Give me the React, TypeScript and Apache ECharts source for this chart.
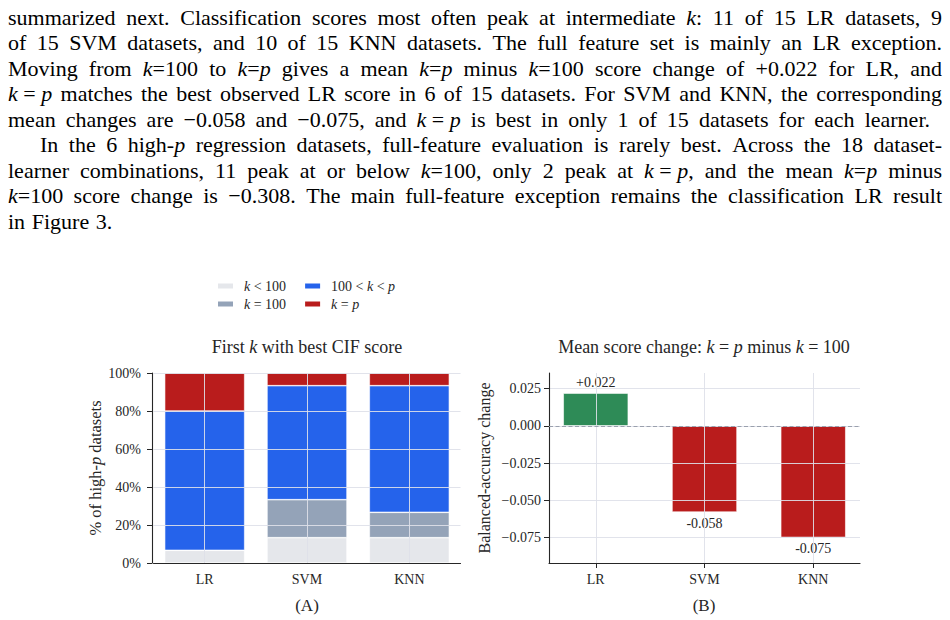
import React, { useEffect, useRef } from "react";
import * as echarts from "echarts";

const SERIF = '"Liberation Serif", "Times New Roman", serif';
const INK = "#262626";
const GRID_LINE = "rgba(222,224,233,0.9)";

// Panel A: datasets (out of 15 per learner) whose first best CIF score falls in each k band
const learners = ["LR", "SVM", "KNN"];
const datasetsPerLearner = 15;
const bandNames = ["k < 100", "k = 100", "100 < k < p", "k = p"];
const bandRichLabels = ["{i|k} < 100", "{i|k} = 100", "100 < {i|k} < {i|p}", "{i|k} = {i|p}"];
const bandColors = ["#e5e7eb", "#94a3b8", "#2563eb", "#b91c1c"];
const firstBestBelow100 = [1, 2, 2];
const firstBestAt100 = [0, 3, 2];
const firstBestBetween = [11, 9, 10];
const firstBestAtP = [3, 1, 1];
const bandCounts = [firstBestBelow100, firstBestAt100, firstBestBetween, firstBestAtP];

// Panel B: mean balanced-accuracy change, k = p minus k = 100
const meanChange = [0.022, -0.058, -0.075];
const changeTicks = [-0.075, -0.05, -0.025, 0, 0.025];
const gainColor = "#2e8b57";
const lossColor = "#b91c1c";

// Running text above the figure; *x* marks italic math, ~ a space inside a formula
const paragraphLines = [
  { text: "summarized next. Classification scores most often peak at intermediate *k*: 11 of 15 LR datasets, 9", indent: false, end: 942 },
  { text: "of 15 SVM datasets, and 10 of 15 KNN datasets. The full feature set is mainly an LR exception.", indent: false, end: 942 },
  { text: "Moving from *k*=100 to *k*=*p* gives a mean *k*=*p* minus *k*=100 score change of +0.022 for LR, and", indent: false, end: 942 },
  { text: "*k*~=~*p* matches the best observed LR score in 6 of 15 datasets. For SVM and KNN, the corresponding", indent: false, end: 942 },
  { text: "mean changes are \u22120.058 and \u22120.075, and *k*~=~*p* is best in only 1 of 15 datasets for each learner.", indent: false, end: 930 },
  { text: "In the 6 high-*p* regression datasets, full-feature evaluation is rarely best. Across the 18 dataset-", indent: true, end: 942 },
  { text: "learner combinations, 11 peak at or below *k*=100, only 2 peak at *k*~=~*p*, and the mean *k*=*p* minus", indent: false, end: 942 },
  { text: "*k*=100 score change is \u22120.308. The main full-feature exception remains the classification LR result", indent: false, end: 942 },
  { text: "in Figure 3.", indent: false, end: 0 },
];

const BODY_SIZE = 22;

function buildParagraph(): any[] {
  const ctx = document.createElement("canvas").getContext("2d") as CanvasRenderingContext2D;
  const measure = (s: string, italic: boolean) => {
    ctx.font = `${italic ? "italic " : ""}${BODY_SIZE}px ${SERIF}`;
    return ctx.measureText(s).width;
  };
  const left = 8;
  const firstBaseline = 24.5;
  const leading = 25.5;
  const indentWidth = 32;
  const naturalSpace = BODY_SIZE * 0.3;
  const out: any[] = [];
  paragraphLines.forEach((line, li) => {
    const words = line.text.split(" ").map((w) => {
      const parts = w.replace(/~/g, " ").split("*");
      let width = 0;
      let rich = "";
      parts.forEach((p, pi) => {
        if (!p) return;
        const italic = pi % 2 === 1;
        width += measure(p, italic);
        rich += italic ? `{i|${p}}` : p;
      });
      return { rich, width };
    });
    const x0 = left + (line.indent ? indentWidth : 0);
    const total = words.reduce((a, w) => a + w.width, 0);
    const gap =
      line.end > 0 && words.length > 1
        ? Math.max(3, (line.end - x0 - total) / (words.length - 1))
        : naturalSpace;
    const y = firstBaseline + li * leading - 7.3;
    let x = x0;
    words.forEach((w) => {
      out.push({
        type: "text",
        x,
        y,
        silent: true,
        style: {
          text: w.rich,
          font: `${BODY_SIZE}px ${SERIF}`,
          fill: "#000",
          textAlign: "left",
          textVerticalAlign: "middle",
          rich: { i: { font: `italic ${BODY_SIZE}px ${SERIF}`, fill: "#000" } },
        },
      });
      x += w.width + gap;
    });
  });
  return out;
}

function label(text: string, x: number, y: number, size: number): any {
  return {
    type: "text",
    x,
    y,
    silent: true,
    style: {
      text,
      font: `${size}px ${SERIF}`,
      fill: INK,
      textAlign: "center",
      textVerticalAlign: "middle",
      rich: { i: { font: `italic ${size}px ${SERIF}`, fill: INK } },
    },
  };
}

const tickText = (size: number) => ({ fontFamily: SERIF, fontSize: size, color: INK });
const richName = (size: number) => ({
  fontFamily: SERIF,
  fontSize: size,
  color: INK,
  rich: { i: { fontFamily: SERIF, fontSize: size, fontStyle: "italic", color: INK } },
});

function buildOption(): any {
  const legendBase = {
    icon: "rect",
    itemWidth: 17,
    itemHeight: 7,
    itemGap: 17,
    left: 211,
    orient: "horizontal",
    selectedMode: false,
    formatter: (name: string) => bandRichLabels[bandNames.indexOf(name)],
    textStyle: {
      fontFamily: SERIF,
      fontSize: 14,
      color: INK,
      padding: [0, 0, 0, 5],
      rich: { i: { fontFamily: SERIF, fontSize: 14, fontStyle: "italic", color: INK } },
    },
  };
  const learnerIndex = learners.map((_, i) => i);

  return {
    animation: false,
    backgroundColor: "#fff",
    textStyle: { fontFamily: SERIF },
    legend: [
      { ...legendBase, top: 274, data: [bandNames[0], bandNames[2]] },
      { ...legendBase, top: 292, data: [bandNames[1], bandNames[3]] },
    ],
    grid: [
      { left: 153.5, top: 373, width: 307, height: 190 },
      { left: 549, top: 373, width: 311, height: 190 },
    ],
    xAxis: [
      {
        type: "category",
        gridIndex: 0,
        data: learners,
        z: 3,
        axisLine: { onZero: false, lineStyle: { color: INK, width: 1.1 } },
        axisTick: { alignWithLabel: true, length: 5, lineStyle: { color: INK } },
        axisLabel: { margin: 9, ...tickText(14) },
        splitLine: { show: true, alignWithLabel: true, lineStyle: { color: GRID_LINE, width: 1 } },
      },
      {
        type: "value",
        gridIndex: 1,
        min: -0.43,
        max: 2.43,
        z: 3,
        axisLine: { onZero: false, lineStyle: { color: INK, width: 1.1 } },
        axisTick: { show: true, length: 5, customValues: learnerIndex, lineStyle: { color: INK } },
        axisLabel: {
          margin: 9,
          customValues: learnerIndex,
          formatter: (v: number) => learners[Math.round(v)] ?? "",
          ...tickText(14),
        },
        splitLine: { show: true, lineStyle: { color: GRID_LINE, width: 1 } },
      },
    ],
    yAxis: [
      {
        type: "value",
        gridIndex: 0,
        min: 0,
        max: 100,
        interval: 20,
        offset: 1.5,
        z: 3,
        name: "% of high-{i|p} datasets",
        nameLocation: "middle",
        nameGap: 48,
        nameTextStyle: richName(16.5),
        axisLine: { show: true, onZero: false, lineStyle: { color: INK, width: 1.1 } },
        axisTick: { show: true, length: 5, lineStyle: { color: INK } },
        axisLabel: { margin: 11, formatter: "{value}%", ...tickText(14) },
        splitLine: { show: true, lineStyle: { color: GRID_LINE, width: 1 } },
      },
      {
        type: "value",
        gridIndex: 1,
        min: -0.0922,
        max: 0.0355,
        z: 3,
        name: "Balanced-accuracy change",
        nameLocation: "middle",
        nameGap: 57,
        nameTextStyle: richName(16),
        axisLine: { show: true, onZero: false, lineStyle: { color: INK, width: 1.1 } },
        axisTick: { show: true, length: 5, customValues: changeTicks, lineStyle: { color: INK } },
        axisLabel: {
          margin: 8,
          customValues: changeTicks,
          formatter: (v: number) => (v < 0 ? "\u2212" : "") + Math.abs(v).toFixed(3),
          ...tickText(14),
        },
        splitLine: { show: true, lineStyle: { color: GRID_LINE, width: 1 } },
      },
    ],
    series: [
      ...bandNames.map((name, b) => ({
        name,
        type: "bar",
        stack: "share",
        xAxisIndex: 0,
        yAxisIndex: 0,
        barWidth: 80,
        itemStyle: { color: bandColors[b], borderColor: "#fff", borderWidth: 0.6 },
        data: bandCounts[b].map((c) => (c / datasetsPerLearner) * 100),
      })),
      {
        name: "Mean change",
        type: "bar",
        xAxisIndex: 1,
        yAxisIndex: 1,
        barWidth: 65,
        itemStyle: { borderColor: "#fff", borderWidth: 0.6 },
        label: {
          show: true,
          distance: 4,
          fontFamily: SERIF,
          fontSize: 14,
          color: INK,
          formatter: (p: any) => {
            const v = p.value[1] as number;
            return (v > 0 ? "+" : "") + v.toFixed(3);
          },
        },
        data: meanChange.map((v, i) => ({
          value: [i, v],
          itemStyle: { color: v >= 0 ? gainColor : lossColor },
          label: { position: v >= 0 ? "top" : "bottom" },
        })),
        markLine: {
          silent: true,
          symbol: "none",
          label: { show: false },
          lineStyle: { type: [4, 2.5], color: "#9aa0ad", width: 1.1 },
          data: [{ yAxis: 0 }],
        },
      },
    ],
    graphic: [
      ...buildParagraph(),
      label("First {i|k} with best CIF score", 307, 347, 18),
      label("Mean score change: {i|k} = {i|p} minus {i|k} = 100", 704, 347, 18),
      label("(A)", 307, 605, 17),
      label("(B)", 704, 605, 17),
    ],
  };
}

export default function App() {
  const ref = useRef<HTMLDivElement>(null);
  useEffect(() => {
    if (!ref.current) return;
    const chart = echarts.init(ref.current, undefined, { renderer: "svg" });
    chart.setOption(buildOption());
    return () => chart.dispose();
  }, []);
  return (
    <div
      ref={ref}
      style={{ position: "absolute", left: 0, top: 0, width: 950, height: 620, background: "#fff" }}
    />
  );
}
